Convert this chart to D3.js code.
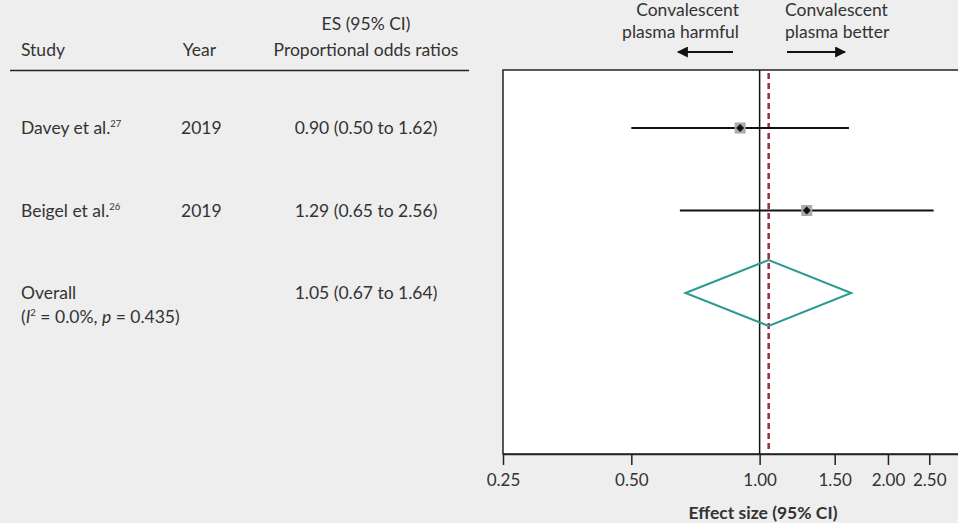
<!DOCTYPE html>
<html>
<head>
<meta charset="utf-8">
<script src="https://cdn.jsdelivr.net/npm/d3@7"></script>
<style>
  body { margin: 0; background: #eeeeee; }
  svg { display: block; font-family: Lato, "Open Sans", sans-serif; }
  text { fill: #333; }
</style>
</head>
<body>
<svg width="958" height="523"></svg>
<script>
var studies = ["Davey et al.", "Beigel et al.", "Overall"];
var refs = ["27", "26", ""];
var years = ["2019", "2019", ""];
var estimates = [0.90, 1.29, 1.05];
var lower = [0.50, 0.65, 0.67];
var upper = [1.62, 2.56, 1.64];
var tickValues = [0.25, 0.50, 1.00, 1.50, 2.00, 2.50];

var rows = studies.map((s, i) => ({
  study: s, ref: refs[i], year: years[i],
  es: estimates[i], lo: lower[i], hi: upper[i], i: i
}));

var svg = d3.select("svg");
var fs = 17.5;

var x = d3.scaleLog().domain([0.25, 3]).range([503, 963]);
var y = d3.scaleLinear().domain([0, 2]).range([128, 293]);
var plotTop = 70, plotBottom = 454;

// plot box
svg.append("rect")
  .attr("x", x(0.25)).attr("y", plotTop)
  .attr("width", x(3) - x(0.25)).attr("height", plotBottom - plotTop)
  .attr("fill", "#fff").attr("stroke", "#222").attr("stroke-width", 1.5);

// no-effect line
svg.append("line")
  .attr("x1", x(1)).attr("x2", x(1)).attr("y1", plotTop).attr("y2", plotBottom)
  .attr("stroke", "#111").attr("stroke-width", 1.5);

// overall estimate line
svg.append("line")
  .attr("x1", x(estimates[2])).attr("x2", x(estimates[2]))
  .attr("y1", plotTop + 3).attr("y2", plotBottom)
  .attr("stroke", "#9b2f3d").attr("stroke-width", 2.5)
  .attr("stroke-dasharray", "6,4");

// axis
svg.append("g")
  .attr("transform", `translate(0,${plotBottom})`)
  .call(d3.axisBottom(x).tickValues(tickValues).tickFormat(d3.format(".2f")).tickSize(11).tickSizeOuter(0))
  .call(g => g.select(".domain").attr("stroke", "#222").attr("stroke-width", 1.5))
  .call(g => g.selectAll(".tick line").attr("stroke", "#222").attr("stroke-width", 1.5))
  .call(g => g.selectAll(".tick text").attr("font-size", 17).attr("fill", "#333").attr("dy", "1.05em")
    .style("font-family", "Lato, sans-serif"));

svg.append("text")
  .attr("x", 763).attr("y", 519)
  .attr("text-anchor", "middle").attr("font-weight", "bold").attr("font-size", fs)
  .text("Effect size (95% CI)");

// study rows
var studyRows = rows.filter(d => d.study !== "Overall");
svg.selectAll(".ci").data(studyRows).enter()
  .append("line")
  .attr("x1", d => x(d.lo)).attr("x2", d => x(d.hi))
  .attr("y1", d => y(d.i)).attr("y2", d => y(d.i))
  .attr("stroke", "#111").attr("stroke-width", 2);

svg.selectAll(".box").data(studyRows).enter()
  .append("rect")
  .attr("x", d => x(d.es) - 5.5).attr("y", d => y(d.i) - 5.5)
  .attr("width", 11).attr("height", 11)
  .attr("fill", "#aaaaaa");

svg.selectAll(".pt").data(studyRows).enter()
  .append("path")
  .attr("d", d => `M${x(d.es)},${y(d.i) - 4}l4,4l-4,4l-4,-4z`)
  .attr("fill", "#111");

// overall diamond
var ov = rows[2];
svg.append("path")
  .attr("d", `M${x(ov.lo)},${y(2)}L${x(ov.es)},${y(2) - 33}L${x(ov.hi)},${y(2)}L${x(ov.es)},${y(2) + 33}Z`)
  .attr("fill", "none").attr("stroke", "#2a9a92").attr("stroke-width", 2);

// left table
svg.append("text").attr("x", 21).attr("y", 56).attr("font-size", fs).text("Study");
svg.append("text").attr("x", 216).attr("y", 56).attr("font-size", fs).attr("text-anchor", "end").text("Year");
svg.append("text").attr("x", 366).attr("y", 30).attr("font-size", fs).attr("text-anchor", "middle").text("ES (95% CI)");
svg.append("text").attr("x", 366).attr("y", 56).attr("font-size", fs).attr("text-anchor", "middle").text("Proportional odds ratios");
svg.append("line").attr("x1", 10).attr("x2", 469).attr("y1", 70.5).attr("y2", 70.5)
  .attr("stroke", "#222").attr("stroke-width", 1.5);

var lab = svg.selectAll(".lab").data(rows).enter()
  .append("text").attr("x", 21).attr("y", d => y(d.i) + 6).attr("font-size", fs);
lab.append("tspan").text(d => d.study);
lab.append("tspan").attr("font-size", 9.5).attr("dy", -7).text(d => d.ref);

svg.selectAll(".yr").data(rows).enter()
  .append("text").attr("x", 181).attr("y", d => y(d.i) + 6).attr("font-size", fs)
  .text(d => d.year);

svg.selectAll(".es").data(rows).enter()
  .append("text").attr("x", 366).attr("y", d => y(d.i) + 6).attr("font-size", fs)
  .attr("text-anchor", "middle")
  .text(d => `${d.es.toFixed(2)} (${d.lo.toFixed(2)} to ${d.hi.toFixed(2)})`);

var het = svg.append("text").attr("x", 21).attr("y", y(2) + 30).attr("font-size", fs);
het.append("tspan").text("(");
het.append("tspan").attr("font-style", "italic").text("I");
het.append("tspan").attr("font-size", 9.5).attr("dy", -7).text("2");
het.append("tspan").attr("dy", 7).text(" = 0.0%, ");
het.append("tspan").attr("font-style", "italic").text("p");
het.append("tspan").text(" = 0.435)");

// direction labels
svg.append("defs").append("marker")
  .attr("id", "ah").attr("viewBox", "0 0 10 10").attr("refX", 9).attr("refY", 5)
  .attr("markerWidth", 12).attr("markerHeight", 11).attr("markerUnits", "userSpaceOnUse")
  .attr("orient", "auto")
  .append("path").attr("d", "M0,0L10,5L0,10Z").attr("fill", "#111");

svg.append("text").attr("x", 739).attr("y", 16).attr("font-size", fs).attr("text-anchor", "end").text("Convalescent");
svg.append("text").attr("x", 739).attr("y", 38).attr("font-size", fs).attr("text-anchor", "end").text("plasma harmful");
svg.append("text").attr("x", 785).attr("y", 16).attr("font-size", fs).text("Convalescent");
svg.append("text").attr("x", 785).attr("y", 38).attr("font-size", fs).text("plasma better");

svg.append("line").attr("x1", 733).attr("x2", 678).attr("y1", 52).attr("y2", 52)
  .attr("stroke", "#111").attr("stroke-width", 2).attr("marker-end", "url(#ah)");
svg.append("line").attr("x1", 787).attr("x2", 845).attr("y1", 52).attr("y2", 52)
  .attr("stroke", "#111").attr("stroke-width", 2).attr("marker-end", "url(#ah)");
</script>
</body>
</html>
